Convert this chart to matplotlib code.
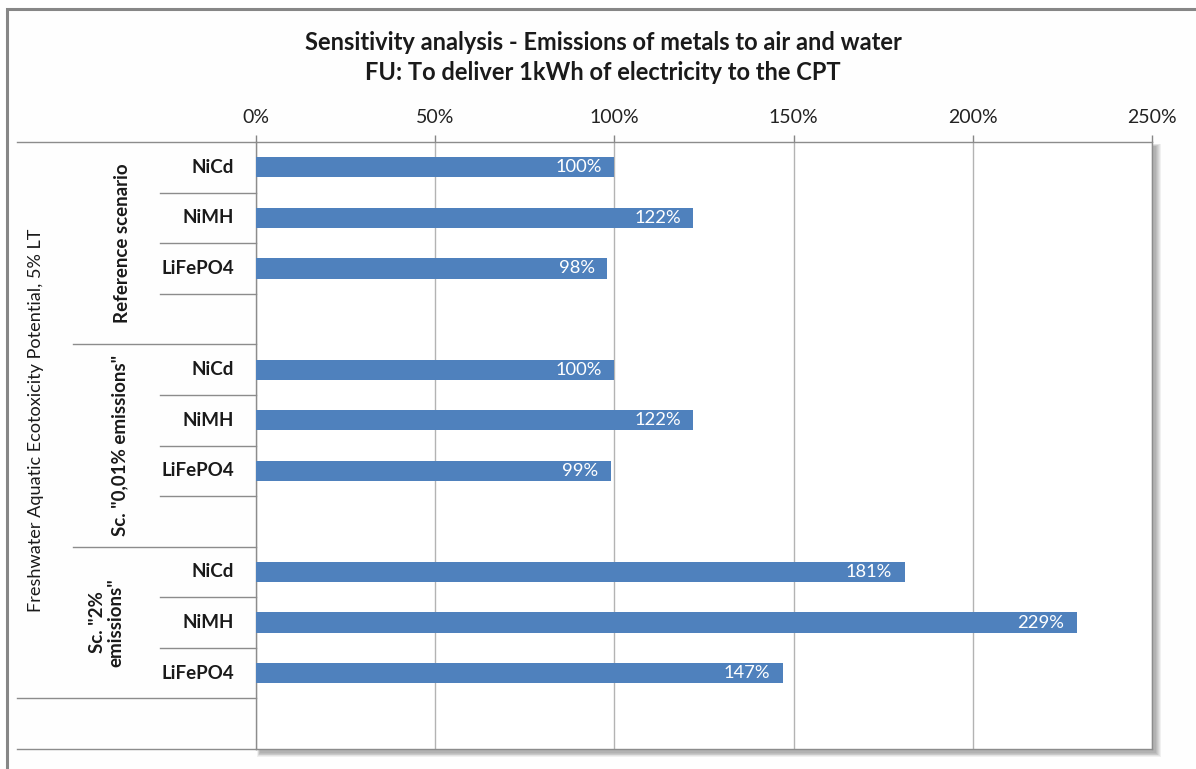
import matplotlib
matplotlib.use("Agg")
import matplotlib.pyplot as plt
from matplotlib.patches import Rectangle
from matplotlib.transforms import blended_transform_factory

# ---- data -------------------------------------------------------------
title_lines = ["Sensitivity analysis - Emissions of metals to air and water",
               "FU: To deliver 1kWh of electricity to the CPT"]
impact_category = "Freshwater Aquatic Ecotoxicity Potential, 5% LT"
scenarios = ["Reference scenario", 'Sc. "0,01% emissions"', 'Sc. "2%\nemissions"']
batteries = ["NiCd", "NiMH", "LiFePO4"]
reference_values = [100, 122, 98]
low_emission_values = [100, 122, 99]
high_emission_values = [181, 229, 147]
x_ticks = [0, 50, 100, 150, 200, 250]

scenario_values = [reference_values, low_emission_values, high_emission_values]

# ---- figure -----------------------------------------------------------
W, H = 1196, 769
plt.rcParams["font.family"] = ["Lato", "DejaVu Sans"]
fig = plt.figure(figsize=(W / 100, H / 100), dpi=100, facecolor="#fefefe")


def fx(x):
    return x / W


def fy(y):
    return 1 - y / H


# plot area in pixel coordinates
px0, px1, py0, py1 = 256, 1152, 142, 749
ax = fig.add_axes([fx(px0), fy(py1), fx(px1 - px0), (py1 - py0) / H])
ax.set_facecolor("white")
ax.set_zorder(2)

# soft drop shadow behind the plot area
for k in range(6):
    fig.patches.append(Rectangle((fx(px0 + 4 - k * 0.6), fy(py1 + 4 + k * 0.8)),
                                 fx(px1 - px0 + k * 1.6), (py1 - py0 + k * 1.2) / H,
                                 transform=fig.transFigure, facecolor="black",
                                 alpha=0.055, edgecolor="none", zorder=0))

# outer chart border
fig.patches.append(Rectangle((fx(7), fy(790)), fx(1210), (790 - 9) / H,
                             transform=fig.transFigure, facecolor="none",
                             edgecolor="#868686", linewidth=2.2, zorder=1))

# rows: three scenario groups, each followed by a blank row
row_positions = []
row = 0
for g, vals in enumerate(scenario_values):
    row_positions.append([row + i for i in range(len(vals))])
    row += len(vals) + 1
n_rows = row

bar_color = "#4f81bd"
for g, vals in enumerate(scenario_values):
    ys = row_positions[g]
    ax.barh(ys, vals, height=0.4, color=bar_color, zorder=3)
    for y, v in zip(ys, vals):
        ax.annotate(f"{v:.0f}%", xy=(v, y), xytext=(-9, 0), textcoords="offset points",
                    ha="right", va="center", color="white", fontsize=13.2, zorder=4)

ax.set_xlim(0, 250)
ax.set_ylim(n_rows - 0.5, -0.5)
ax.set_xticks(x_ticks)
ax.set_xticklabels([f"{t}%" for t in x_ticks])
ax.xaxis.tick_top()
ax.tick_params(axis="x", top=True, bottom=False, length=5, width=1, color="#868686",
               labelsize=14, pad=6.5, labelcolor="#222222")
ax.set_yticks([])
ax.grid(axis="x", color="#b3b3b3", linewidth=1, zorder=1)
ax.set_axisbelow(True)
for s in ax.spines.values():
    s.set_color("#8c8c8c")
    s.set_linewidth(1)

# category axis: separator lines and labels on the left
tr = blended_transform_factory(ax.transAxes, ax.transData)
line_col = "#8c8c8c"
x_outer = (17 - px0) / (px1 - px0)
x_group = (73 - px0) / (px1 - px0)
x_inner = (160 - px0) / (px1 - px0)


def hline(y, x_start):
    ax.plot([x_start, 0], [y, y], transform=tr, color=line_col, lw=1, clip_on=False)


hline(-0.5, x_outer)
for g, ys in enumerate(row_positions):
    for y in ys[:-1]:
        hline(y + 0.5, x_inner)
    last = ys[-1] + 0.5
    if g < len(row_positions) - 1:
        hline(last, x_inner)
        hline(last + 1, x_group)
    else:
        hline(last, x_outer)
        hline(last + 1, x_outer)

lab_font = dict(fontsize=13.5, fontweight="bold", color="#1a1a1a")
x_lab = (234 - px0) / (px1 - px0)
for g, ys in enumerate(row_positions):
    for y, name in zip(ys, batteries):
        ax.text(x_lab, y, name, transform=tr, ha="right", va="center", **lab_font)

group_x = [122, 120, 107]
for g, ys in enumerate(row_positions):
    top = ys[0] - 0.5
    bottom = ys[-1] + 0.5 + (1 if g < len(row_positions) - 1 else 0)
    ax.text((group_x[g] - px0) / (px1 - px0), (top + bottom) / 2, scenarios[g],
            transform=tr, rotation=90, ha="center", va="center", multialignment="center",
            linespacing=1.1, **lab_font)

ax.text((36 - px0) / (px1 - px0), (-0.5 + row_positions[-1][-1] + 0.5) / 2, impact_category,
        transform=tr, rotation=90, ha="center", va="center", fontsize=13.1, color="#1a1a1a")

# two-line title
fig.text(fx(603), fy(42), title_lines[0], ha="center", va="center", fontsize=17,
         fontweight="bold", color="#1a1a1a")
fig.text(fx(603), fy(73), title_lines[1], ha="center", va="center", fontsize=17,
         fontweight="bold", color="#1a1a1a")

fig.savefig("out.png", dpi=100, facecolor=fig.get_facecolor())
